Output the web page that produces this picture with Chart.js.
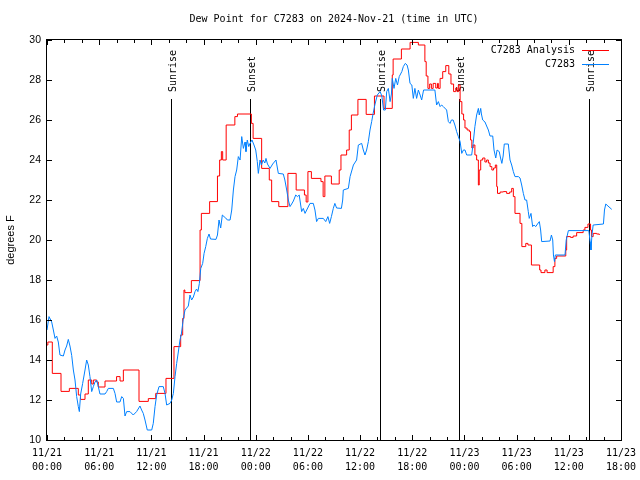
<!DOCTYPE html>
<html><head><meta charset="utf-8">
<script src="https://cdn.jsdelivr.net/npm/chart.js@4.4.1/dist/chart.umd.min.js"></script>
<style>html,body{margin:0;padding:0;background:#fff;}canvas{display:block;}</style>
</head><body>
<canvas id="c" width="640" height="480"></canvas>
<script>
const titleText = 'Dew Point for C7283 on 2024-Nov-21 (time in UTC)';
const yAxisTitle = 'degrees F';
const seriesNames = ['C7283 Analysis', 'C7283'];
const seriesColors = ['#ff0000', '#0080ff'];
const xTickHours = [0, 6, 12, 18, 24, 30, 36, 42, 48, 54, 60, 66];
const xTickLabels = [['11/21','00:00'],['11/21','06:00'],['11/21','12:00'],['11/21','18:00'],
  ['11/22','00:00'],['11/22','06:00'],['11/22','12:00'],['11/22','18:00'],
  ['11/23','00:00'],['11/23','06:00'],['11/23','12:00'],['11/23','18:00']];
const yTickValues = [10, 12, 14, 16, 18, 20, 22, 24, 26, 28, 30];
const eventHours = [14.28, 23.38, 38.3, 47.4, 62.32];
const eventLabels = ['Sunrise', 'Sunset', 'Sunrise', 'Sunset', 'Sunrise'];

const analysisHours = [0,0.1,0.61,1.61,2.57,3.6,3.85,4.37,4.75,5.14,5.33,5.71,5.9,6.67,8.0,8.4,8.78,10.58,11.65,12.5,13.68,14.6,15.37,15.6,15.75,15.85,16.6,17.6,17.75,18.7,19.6,19.85,20.05,20.2,20.6,21.6,21.9,23.5,23.7,24.68,25.56,25.83,26.65,27.7,28.65,29.6,29.8,30.0,30.4,31.5,31.75,31.95,32.7,33.6,33.8,34.45,34.75,35.0,35.75,36.7,37.65,38.75,39.7,39.8,40.75,41.75,42.7,43.45,43.6,43.8,44.0,44.2,44.4,44.7,44.9,45.0,45.2,45.5,45.85,46.2,46.45,46.75,47.0,47.15,47.3,47.5,47.7,47.9,48.06,48.3,48.56,48.7,48.85,49.0,49.2,49.4,49.6,49.7,49.87,50.1,50.35,50.55,50.75,50.94,51.15,51.35,51.55,51.71,51.8,52.1,52.47,52.85,53.2,53.43,53.62,53.81,54.39,54.6,55.05,55.3,55.7,56.65,56.8,57.25,57.5,58.2,58.4,58.6,59.65,59.75,60.2,60.5,60.9,61.65,61.85,62.2,62.5,62.6,62.8,63.2,63.5];
const analysisValues = [14.75,14.9,13.33,12.43,12.58,12.25,12.03,12.3,13.0,12.8,13.0,12.9,12.65,12.95,13.17,12.95,13.5,11.93,12.07,12.33,13.08,14.67,15.25,16.08,17.5,17.37,17.97,20.5,21.33,21.92,23.2,24.0,24.42,24.0,25.75,26.17,26.3,25.83,25.08,23.58,23.0,21.92,21.67,23.33,22.5,22.25,21.9,23.42,23.08,22.92,22.17,23.2,22.8,23.5,24.25,24.5,25.5,26.25,27.03,26.28,27.2,26.58,28.25,29.05,29.55,29.88,29.75,28.92,28.2,27.58,27.8,27.58,27.83,27.6,27.83,27.58,28.08,28.42,28.72,28.3,27.8,27.42,27.6,27.42,27.75,26.92,26.3,26.0,25.6,25.5,25.42,25.0,24.6,24.75,24.25,24.0,22.75,23.5,24.0,24.1,23.9,24.0,23.85,23.67,23.5,23.6,23.75,22.67,22.33,22.4,22.42,22.33,22.4,22.58,22.17,21.33,20.83,19.67,19.83,19.75,18.75,18.5,18.37,18.5,18.37,18.67,19.08,19.2,19.5,20.17,20.13,20.2,20.37,20.5,20.63,20.8,20.5,20.17,20.33,20.3,20.25];

const obsHours = [0,0.23,0.54,0.73,0.92,1.11,1.3,1.49,1.88,2.07,2.26,2.45,2.64,2.84,3.03,3.22,3.41,3.6,3.72,3.87,4.1,4.37,4.56,4.75,4.94,5.14,5.33,5.52,5.71,5.9,6.09,6.67,6.86,7.05,7.63,7.82,8.01,8.39,8.59,8.78,8.97,9.16,9.54,9.92,10.3,10.69,10.88,11.07,11.27,11.53,12.04,12.22,12.42,12.61,12.88,13.37,13.57,13.76,14.14,14.34,14.53,14.72,14.91,15.1,15.29,15.45,15.68,15.87,16.06,16.25,16.44,16.63,16.83,17.02,17.2,17.35,17.52,17.68,17.9,18.06,18.25,18.44,18.63,18.8,19.43,19.6,19.78,19.97,20.16,20.35,20.55,20.74,21.05,21.24,21.43,21.62,21.81,22.0,22.2,22.39,22.58,22.77,22.88,23.03,23.2,23.34,23.57,23.8,24.0,24.18,24.3,24.5,24.65,24.85,25.05,25.18,25.35,25.65,25.95,26.33,26.6,27.17,27.35,27.56,27.75,27.94,28.13,28.33,28.6,28.8,29.0,29.28,29.47,29.67,29.86,30.24,30.62,30.81,31.0,31.2,31.77,32.05,32.3,32.5,32.7,32.92,33.1,33.3,33.85,34.0,34.07,34.65,34.85,35.23,35.6,35.8,36.18,36.37,36.56,36.75,36.95,37.14,37.33,37.5,37.72,37.98,38.3,38.5,38.7,38.9,39.06,39.25,39.45,39.6,39.7,39.9,40.1,40.3,40.5,40.8,40.97,41.2,41.4,41.55,41.74,41.95,42.12,42.3,42.5,42.7,42.9,43.08,43.3,44.6,44.8,45.0,45.2,45.38,45.57,45.95,46.15,46.34,46.5,46.7,46.9,47.1,47.3,47.5,47.69,47.88,48.06,48.26,48.83,49.0,49.2,49.4,49.6,49.7,49.87,49.95,50.1,50.36,50.55,50.75,50.94,51.25,51.4,51.6,51.75,52.0,52.15,52.3,52.45,52.58,53.04,53.24,53.43,53.62,53.81,54.2,54.39,54.58,54.77,54.96,55.15,55.34,55.45,55.65,55.84,56.0,56.2,56.4,56.61,56.76,56.88,57.84,58.0,58.15,58.23,58.35,58.45,59.56,59.7,59.95,62.3,62.45,62.55,62.65,62.8,63.98,64.1,64.25,64.5,64.94];
const obsValues = [15.5,16.17,15.9,15.5,15.08,15.2,14.9,14.25,14.2,14.5,14.7,15.03,14.7,14.23,13.5,13.0,12.17,11.67,11.42,12.3,12.83,13.5,14.0,13.75,13.17,12.42,12.67,12.9,13.0,12.67,12.3,12.3,12.42,12.58,12.58,12.33,11.9,11.9,12.17,12.08,11.2,11.42,11.42,11.25,11.42,11.7,11.5,11.33,11.0,10.5,10.5,10.83,11.67,12.25,12.67,12.67,12.33,11.75,11.83,12.0,12.33,13.17,13.83,14.4,15.0,15.3,16.08,16.5,16.6,16.7,17.25,17.0,17.15,17.42,17.55,17.42,17.83,18.58,18.83,19.33,19.67,20.08,20.3,20.05,20.03,20.25,21.0,20.6,21.25,21.17,21.1,21.0,21.0,21.5,22.5,23.17,23.5,24.17,24.0,25.17,24.58,24.9,24.42,25.0,24.67,24.83,25.0,24.75,24.5,23.92,23.33,24.0,23.75,24.0,23.85,24.08,23.8,23.58,23.8,24.0,23.33,23.3,23.0,22.5,22.0,21.67,21.8,21.95,22.25,22.17,22.25,21.42,21.58,21.33,21.5,21.83,21.83,21.5,20.92,21.08,21.08,20.92,21.17,20.83,21.17,21.58,21.83,21.6,21.58,22.0,22.5,22.58,23.17,23.75,24.0,24.75,24.83,24.5,24.25,24.5,24.92,25.5,25.92,26.33,26.8,27.25,27.42,27.2,26.5,26.5,27.42,27.58,26.92,27.3,28.08,27.58,28.08,27.75,28.17,28.42,28.67,28.83,28.75,28.5,27.83,27.75,27.08,27.58,27.08,27.5,27.25,27.0,27.5,27.5,26.75,26.92,26.67,26.75,26.67,26.5,25.92,25.83,26.0,26.0,25.75,25.42,25.17,24.92,24.33,24.5,24.5,24.25,24.25,24.83,25.67,26.25,26.58,26.25,26.58,26.3,26.0,25.9,25.7,25.5,25.2,25.2,24.5,24.1,24.5,24.42,24.1,23.83,24.2,24.8,24.8,24.0,23.75,23.42,23.17,23.17,23.1,22.75,22.33,22.0,22.0,21.42,21.08,21.33,20.67,20.75,20.67,20.8,20.92,20.5,19.92,19.95,20.25,20.0,19.25,18.92,19.25,19.25,20.0,20.47,20.47,19.92,19.5,20.2,20.75,20.8,21.5,21.8,21.7,21.53];

const MONO = '10px "DejaVu Sans Mono", monospace';
const SANS = '11px "Liberation Sans", Arial, sans-serif';

const pts = (hs, vs) => hs.map((h, i) => ({x: h, y: vs[i]}));

const decor = {
  id: 'decor',
  beforeDatasetsDraw(chart) {
    const {ctx, chartArea: a, scales: {x}} = chart;
    ctx.save();
    ctx.strokeStyle = '#000'; ctx.lineWidth = 1; ctx.fillStyle = '#000';
    ctx.font = MONO;
    eventHours.forEach((h, i) => {
      const px = Math.round(x.getPixelForValue(h)) + 0.5;
      ctx.beginPath(); ctx.moveTo(px, a.top + 59); ctx.lineTo(px, a.bottom); ctx.stroke();
      ctx.save();
      ctx.translate(px + 4.5, a.top + 52);
      ctx.rotate(-Math.PI / 2);
      ctx.textAlign = 'left'; ctx.textBaseline = 'alphabetic';
      ctx.fillText(eventLabels[i], 0, 0);
      ctx.restore();
    });
    ctx.restore();
  },
  afterDatasetsDraw(chart) {
    const {ctx, chartArea: a, scales: {x, y}} = chart;
    ctx.save();
    ctx.strokeStyle = '#000'; ctx.lineWidth = 1; ctx.fillStyle = '#000';
    ctx.strokeRect(a.left - 0.5, a.top - 0.5, a.right - a.left + 1, a.bottom - a.top + 1);
    ctx.beginPath();
    for (let h = 0; h <= 66; h += 2) {
      const px = Math.round(x.getPixelForValue(h)) + 0.5;
      const len = (h % 6 === 0) ? 5 : 3;
      ctx.moveTo(px, a.bottom); ctx.lineTo(px, a.bottom - len);
      ctx.moveTo(px, a.top); ctx.lineTo(px, a.top + len);
    }
    yTickValues.forEach(v => {
      const py = Math.round(y.getPixelForValue(v)) + 0.5;
      ctx.moveTo(a.left, py); ctx.lineTo(a.left + 5, py);
      ctx.moveTo(a.right, py); ctx.lineTo(a.right - 5, py);
    });
    ctx.stroke();
    ctx.font = MONO; ctx.textAlign = 'center'; ctx.textBaseline = 'middle';
    ctx.fillText(titleText, (a.left + a.right) / 2, 19.5);
    ctx.save();
    ctx.font = SANS;
    ctx.translate(11, (a.top + a.bottom) / 2);
    ctx.rotate(-Math.PI / 2);
    ctx.textAlign = 'center'; ctx.textBaseline = 'middle';
    ctx.fillText(yAxisTitle, 0, 0);
    ctx.restore();
    ctx.font = MONO; ctx.textAlign = 'right'; ctx.textBaseline = 'middle';
    seriesNames.forEach((n, i) => {
      const ly = a.top + 10 + i * 14;
      ctx.fillStyle = '#000';
      ctx.fillText(n, a.right - 46, ly);
      ctx.strokeStyle = seriesColors[i];
      ctx.beginPath(); ctx.moveTo(a.right - 39, ly + 0.5); ctx.lineTo(a.right - 12, ly + 0.5); ctx.stroke();
    });
    ctx.restore();
  }
};

new Chart(document.getElementById('c'), {
  type: 'line',
  data: {
    datasets: [
      {label: seriesNames[1], data: pts(obsHours, obsValues), borderColor: seriesColors[1], borderWidth: 1, pointRadius: 0, tension: 0, order: 0},
      {label: seriesNames[0], data: pts(analysisHours, analysisValues), borderColor: seriesColors[0], borderWidth: 1, pointRadius: 0, tension: 0, stepped: true, order: 1}
    ]
  },
  options: {
    responsive: false, animation: false, devicePixelRatio: 1,
    layout: {padding: {top: 40, right: 19, left: 0, bottom: 0}},
    plugins: {legend: {display: false}, tooltip: {enabled: false}, title: {display: false}},
    scales: {
      x: {
        type: 'linear', min: 0, max: 66,
        grid: {display: false, drawTicks: false}, border: {display: false},
        afterBuildTicks: s => { s.ticks = xTickHours.map(v => ({value: v})); },
        afterFit: s => { s.height = 40; s.paddingRight = 0; s.paddingLeft = 0; },
        ticks: {
          padding: 6, maxRotation: 0, autoSkip: false, color: '#000',
          font: {family: '"DejaVu Sans Mono", monospace', size: 10, lineHeight: '14px'},
          callback: v => { const i = xTickHours.indexOf(v); return i >= 0 ? xTickLabels[i] : ''; }
        }
      },
      y: {
        type: 'linear', min: 10, max: 30,
        grid: {display: false, drawTicks: false}, border: {display: false},
        afterBuildTicks: s => { s.ticks = yTickValues.map(v => ({value: v})); },
        afterFit: s => { s.width = 47; },
        ticks: {padding: 6, color: '#000', font: {family: '"Liberation Sans", Arial, sans-serif', size: 10.5}}
      }
    }
  },
  plugins: [decor]
});
</script>
</body></html>
